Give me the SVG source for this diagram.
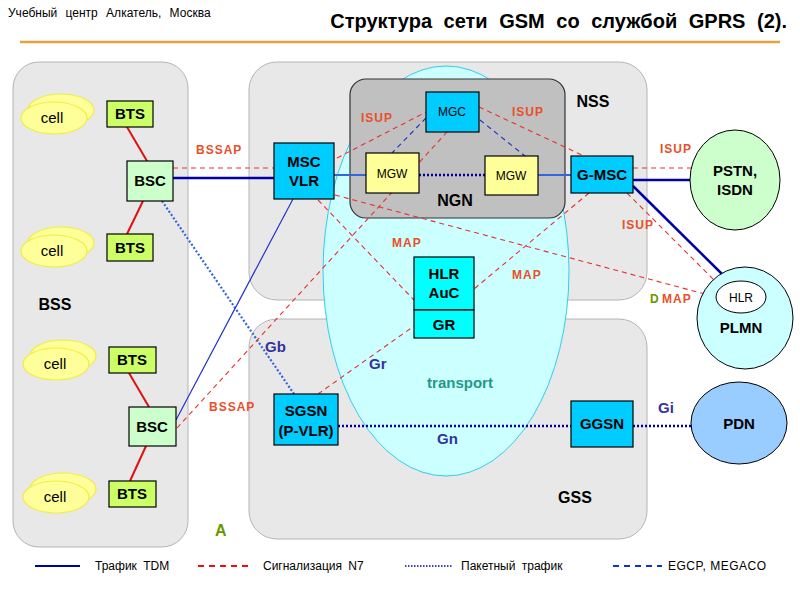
<svg xmlns="http://www.w3.org/2000/svg" width="800" height="600" viewBox="0 0 800 600">
<style>
text{font-family:"Liberation Sans",Arial,sans-serif}
.panel{fill:#E8E8E8;stroke:#B4B4B4;stroke-width:1}
.node text{font-weight:bold;font-size:15px;text-anchor:middle;fill:#000}
.cyan{fill:#00CCFF;stroke:#000;stroke-width:1.2}
.bts{fill:#CCFF66;stroke:#000;stroke-width:1.2}
.bsc{fill:#CCFFCC;stroke:#000;stroke-width:1.2}
.mgw{fill:#FFFF99;stroke:#000;stroke-width:1.2}
.hlr{fill:#00FFFF;stroke:#000;stroke-width:1.2}
.cell ellipse{fill:#FFFF99;stroke:#EEEE44;stroke-width:1.2}
.cell text{font-size:15px;text-anchor:middle;fill:#000}
.tdm{stroke:#0000AA;stroke-width:2.5;fill:none}
.tdm2{stroke:#3366DD;stroke-width:2;fill:none}
.thin{stroke:#2233CC;stroke-width:1.2;fill:none}
.sig{stroke:#E83030;stroke-width:1.1;stroke-dasharray:5,4;fill:none}
.pkt{stroke:#000099;stroke-width:2.5;stroke-dasharray:2,2;fill:none}
.pkt2{stroke:#3366DD;stroke-width:2.2;stroke-dasharray:2,2;fill:none}
.egcp{stroke:#2233CC;stroke-width:1.2;stroke-dasharray:5,4;fill:none}
.red{stroke:#E01010;stroke-width:2;fill:none}
.lr{fill:#E8502A;font-weight:bold;font-size:12px;letter-spacing:1px}
.lb{fill:#333399;font-weight:bold;font-size:15px}
.area{font-weight:bold;font-size:16px;fill:#000}
.leg{font-size:12px;fill:#000}
</style>

<text x="8" y="17" font-size="12" word-spacing="5">Учебный центр Алкатель, Москва</text>
<text x="787" y="28" font-size="20" font-weight="bold" text-anchor="end" word-spacing="6">Структура сети GSM со службой GPRS (2).</text>
<line x1="20" y1="42" x2="780" y2="42" stroke="#E8A33A" stroke-width="2.5"/>

<g id="panels">
<rect class="panel" x="13" y="62" width="175" height="485" rx="26"/>
<rect class="panel" x="249" y="62" width="398" height="238" rx="28"/>
<rect class="panel" x="249" y="319" width="398" height="220" rx="28"/>
<ellipse cx="446" cy="271" rx="123" ry="205" fill="#CCFFFF" stroke="#33CCEE" stroke-width="1"/>
<rect x="350" y="79" width="215" height="139" rx="16" fill="#C0C0C0" stroke="#333" stroke-width="1.2"/>
<text class="area" x="55" y="310" text-anchor="middle">BSS</text>
<text class="area" x="593" y="107" text-anchor="middle">NSS</text>
<text class="area" x="575" y="503" text-anchor="middle">GSS</text>
<text class="area" x="455" y="206" text-anchor="middle">NGN</text>
<text x="460" y="388" text-anchor="middle" font-weight="bold" font-size="15" fill="#229988">transport</text>
</g>

<g id="connectors">
<line class="red" x1="127" y1="127" x2="147" y2="161"/>
<line class="red" x1="143" y1="201" x2="127" y2="234"/>
<line class="red" x1="129" y1="373" x2="149" y2="407"/>
<line class="red" x1="146" y1="446" x2="130" y2="481"/>
<line class="tdm" x1="173" y1="178" x2="274" y2="178"/>
<line class="tdm2" x1="334" y1="175" x2="366" y2="175"/>
<line class="pkt" x1="419" y1="175" x2="485" y2="175"/>
<line class="tdm2" x1="538" y1="175" x2="571" y2="175"/>
<line class="tdm" x1="633" y1="180" x2="691" y2="180"/>
<line class="tdm" x1="633" y1="186" x2="722" y2="274"/>
<line class="sig" x1="173" y1="168" x2="274" y2="168"/>
<line class="pkt2" x1="162" y1="201" x2="294" y2="394"/>
<line class="thin" x1="176" y1="420" x2="293" y2="199"/>
<line class="sig" x1="177" y1="428" x2="447" y2="132"/>
<line class="sig" x1="337" y1="158" x2="426" y2="112"/>
<line class="sig" x1="479" y1="107" x2="584" y2="156"/>
<line class="egcp" x1="426" y1="118" x2="392" y2="153"/>
<line class="egcp" x1="480" y1="120" x2="525" y2="156"/>
<line class="sig" x1="318" y1="200" x2="414" y2="300"/>
<line class="sig" x1="335" y1="195" x2="716" y2="297"/>
<line class="sig" x1="589" y1="193" x2="474" y2="289"/>
<line class="sig" x1="633" y1="168" x2="691" y2="168"/>
<line class="sig" x1="627" y1="193" x2="714" y2="280"/>
<line class="sig" x1="318" y1="394" x2="414" y2="326"/>
<line class="pkt" x1="338" y1="426" x2="571" y2="426"/>
<line class="pkt" x1="633" y1="426" x2="691" y2="426"/>
<text class="lr" x="196" y="154">BSSAP</text>
<text class="lr" x="209" y="411">BSSAP</text>
<text class="lr" x="361" y="122">ISUP</text>
<text class="lr" x="512" y="116">ISUP</text>
<text class="lr" x="660" y="153">ISUP</text>
<text class="lr" x="622" y="229">ISUP</text>
<text class="lr" x="392" y="247">MAP</text>
<text class="lr" x="512" y="279">MAP</text>
<text x="650" y="303" font-weight="bold" font-size="12" fill="#669900">D <tspan fill="#E8502A" letter-spacing="1">MAP</tspan></text>
<text class="lb" x="265" y="352">Gb</text>
<text class="lb" x="369" y="369">Gr</text>
<text class="lb" x="437" y="444">Gn</text>
<text class="lb" x="658" y="413">Gi</text>
<text x="215" y="536" font-weight="bold" font-size="16" fill="#669900">A</text>
</g>

<g id="cell1" class="cell"><ellipse cx="61" cy="110" rx="33" ry="16"/><ellipse cx="54" cy="118" rx="33" ry="16"/><text x="52" y="123">cell</text></g>
<g id="cell2" class="cell"><ellipse cx="61" cy="243" rx="33" ry="16"/><ellipse cx="54" cy="251" rx="33" ry="16"/><text x="52" y="256">cell</text></g>
<g id="cell3" class="cell"><ellipse cx="63" cy="356" rx="33" ry="16"/><ellipse cx="56" cy="364" rx="33" ry="16"/><text x="55" y="369">cell</text></g>
<g id="cell4" class="cell"><ellipse cx="63" cy="489" rx="33" ry="16"/><ellipse cx="56" cy="497" rx="33" ry="16"/><text x="55" y="502">cell</text></g>

<g id="bts1" class="node"><rect class="bts" x="107" y="101" width="46" height="26"/><text x="130" y="119">BTS</text></g>
<g id="bsc1" class="node"><rect class="bsc" x="127" y="161" width="46" height="40"/><text x="150" y="186">BSC</text></g>
<g id="bts2" class="node"><rect class="bts" x="107" y="234" width="46" height="27"/><text x="130" y="253">BTS</text></g>
<g id="bts3" class="node"><rect class="bts" x="109" y="347" width="47" height="26"/><text x="132" y="365">BTS</text></g>
<g id="bsc2" class="node"><rect class="bsc" x="129" y="407" width="47" height="39"/><text x="152" y="432">BSC</text></g>
<g id="bts4" class="node"><rect class="bts" x="109" y="481" width="47" height="26"/><text x="132" y="499">BTS</text></g>

<g id="msc" class="node"><rect class="cyan" x="274" y="143" width="60" height="56"/><text x="304" y="167">MSC</text><text x="304" y="186">VLR</text></g>
<g id="mgc" class="node"><rect class="cyan" x="426" y="92" width="53" height="40"/><text x="452" y="116" style="font-size:12px;font-weight:normal">MGC</text></g>
<g id="mgw1" class="node"><rect class="mgw" x="366" y="153" width="53" height="40"/><text x="392" y="178" style="font-size:12px;font-weight:normal">MGW</text></g>
<g id="mgw2" class="node"><rect class="mgw" x="485" y="156" width="53" height="39"/><text x="511" y="180" style="font-size:12px;font-weight:normal">MGW</text></g>
<g id="gmsc" class="node"><rect class="cyan" x="571" y="156" width="62" height="37"/><text x="602" y="180">G-MSC</text></g>
<g id="hlr" class="node"><rect class="hlr" x="414" y="257" width="60" height="53"/><text x="444" y="279">HLR</text><text x="444" y="298">AuC</text><rect class="hlr" x="414" y="310" width="60" height="28"/><text x="444" y="330">GR</text></g>
<g id="sgsn" class="node"><rect class="cyan" x="274" y="394" width="64" height="51"/><text x="306" y="416">SGSN</text><text x="306" y="436">(P-VLR)</text></g>
<g id="ggsn" class="node"><rect class="cyan" x="571" y="401" width="62" height="46"/><text x="602" y="429">GGSN</text></g>
<g id="pstn" class="node"><ellipse cx="735" cy="180" rx="45" ry="50" fill="#CCFFCC" stroke="#000"/><text x="735" y="176">PSTN,</text><text x="735" y="195">ISDN</text></g>
<g id="plmn" class="node"><ellipse cx="745" cy="318" rx="48" ry="51" fill="#CCFFFF" stroke="#000"/><ellipse cx="741" cy="297" rx="25" ry="16" fill="#fff" stroke="#000"/><text x="741" y="302" style="font-size:12px;font-weight:normal">HLR</text><text x="741" y="333">PLMN</text></g>
<g id="pdn" class="node"><ellipse cx="739" cy="423" rx="48" ry="41" fill="#99CCFF" stroke="#000"/><text x="739" y="429">PDN</text></g>

<g id="legend">
<line x1="35" y1="566" x2="80" y2="566" stroke="#0000AA" stroke-width="2"/>
<text class="leg" x="95" y="570" word-spacing="3">Трафик TDM</text>
<line x1="198" y1="566" x2="248" y2="566" stroke="#E81010" stroke-width="2" stroke-dasharray="6,5"/>
<text class="leg" x="263" y="570" word-spacing="3">Сигнализация N7</text>
<line x1="405" y1="566" x2="452" y2="566" stroke="#0000CC" stroke-width="1.5" stroke-dasharray="1.5,1.5"/>
<text class="leg" x="461" y="570" word-spacing="3">Пакетный трафик</text>
<line x1="613" y1="566" x2="662" y2="566" stroke="#1030DD" stroke-width="2" stroke-dasharray="6,5"/>
<text class="leg" x="668" y="570" letter-spacing="0.5">EGCP, MEGACO</text>
</g>
</svg>
